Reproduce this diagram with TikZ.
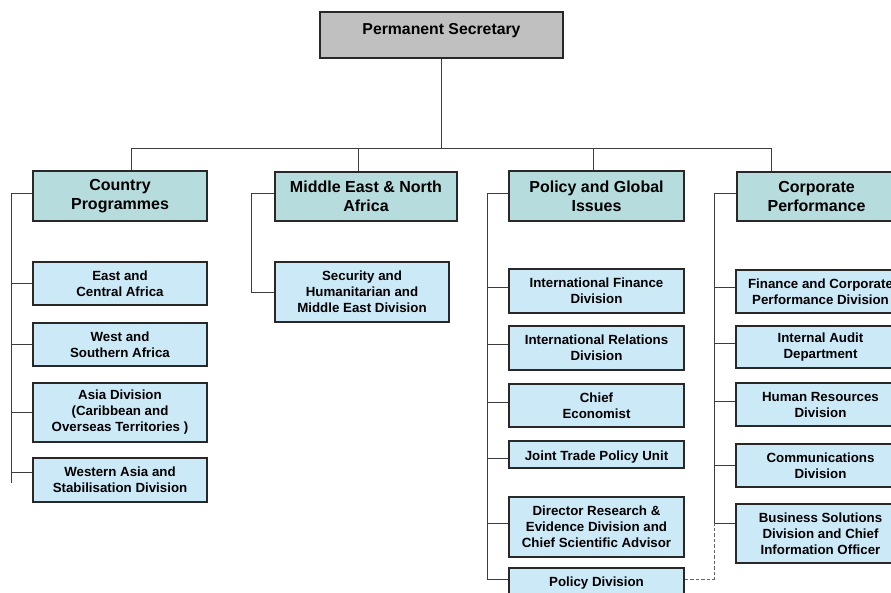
\documentclass[tikz,border=0pt]{standalone}
\usepackage{fontspec}
\setmainfont{Liberation Sans}
\definecolor{topgray}{RGB}{192,192,192}
\definecolor{headteal}{RGB}{183,220,222}
\definecolor{subblue}{RGB}{204,233,248}
\definecolor{linegray}{RGB}{60,60,60}
\definecolor{boxline}{RGB}{40,40,40}
\definecolor{dashgray}{RGB}{100,100,100}
\tikzset{
  box/.style={draw=boxline, line width=1.2pt, inner sep=0pt, align=center},
  topbox/.style={box, fill=topgray, font=\fontsize{15.8}{18}\selectfont\bfseries},
  headbox/.style={box, fill=headteal, font=\fontsize{16}{19}\selectfont\bfseries},
  subbox/.style={box, fill=subblue, font=\fontsize{13.3}{16}\selectfont\bfseries},
  conn/.style={draw=linegray, line width=0.9pt},
  dashconn/.style={draw=dashgray, line width=0.9pt, dash pattern=on 3.5pt off 2pt}
}
\begin{document}
\begin{tikzpicture}[x=1pt,y=-1pt]
\useasboundingbox (0,0) rectangle (891,592);
\clip (0,0) rectangle (891,592);
\fill[white] (0,0) rectangle (891,592);

% top
\node[topbox, minimum width=243pt, minimum height=46pt, text height=11pt, text depth=12pt] (ps) at (441.5,35) {Permanent Secretary};
\coordinate (bus) at (441.5,148);

% headers
\node[headbox, minimum width=174pt, minimum height=50pt] (cp) at (120,196) {Country\\Programmes};
\node[headbox, minimum width=182pt, minimum height=49pt] (me) at (366,196.5) {Middle East \& North\\Africa};
\node[headbox, minimum width=175pt, minimum height=50pt] (pg) at (596.5,196) {Policy and Global\\Issues};
\node[headbox, minimum width=159pt, minimum height=49pt] (cpf) at (816.5,196.5) {Corporate\\Performance};

% country programmes
\node[subbox, minimum width=174pt, minimum height=43pt] (eca) at (120,283.5) {East and\\Central Africa};
\node[subbox, minimum width=174pt, minimum height=43pt] (wsa) at (120,344.5) {West and\\Southern Africa};
\node[subbox, minimum width=174pt, minimum height=59pt] (asia) at (120,412.5) {Asia Division\\(Caribbean and\\Overseas Territories )};
\node[subbox, minimum width=174pt, minimum height=44pt] (was) at (120,480) {Western Asia and\\Stabilisation Division};

% middle east
\node[subbox, minimum width=174pt, minimum height=60pt] (shm) at (362,292) {Security and\\Humanitarian and\\Middle East Division};

% policy
\node[subbox, minimum width=175pt, minimum height=44pt] (ifd) at (596.5,291) {International Finance\\Division};
\node[subbox, minimum width=175pt, minimum height=44pt] (ird) at (596.5,348) {International Relations\\Division};
\node[subbox, minimum width=175pt, minimum height=43pt] (ce) at (596.5,405.5) {Chief\\Economist};
\node[subbox, minimum width=175pt, minimum height=27pt, text height=15pt, text depth=2.7pt] (jtp) at (596.5,454.5) {Joint Trade Policy Unit};
\node[subbox, minimum width=175pt, minimum height=60pt] (dre) at (596.5,527) {Director Research \&\\Evidence Division and\\Chief Scientific Advisor};
\node[subbox, minimum width=175pt, minimum height=28pt, text height=14pt, text depth=5pt] (pd) at (596.5,582) {Policy Division};

% corporate
\node[subbox, minimum width=169pt, minimum height=43pt] (fcp) at (820.5,291.5) {Finance and Corporate\\Performance Division};
\node[subbox, minimum width=169pt, minimum height=42pt] (iad) at (820.5,347) {Internal Audit\\Department};
\node[subbox, minimum width=169pt, minimum height=43pt] (hrd) at (820.5,404.5) {Human Resources\\Division};
\node[subbox, minimum width=169pt, minimum height=43pt] (cd) at (820.5,465.5) {Communications\\Division};
\node[subbox, minimum width=169pt, minimum height=59pt] (bsd) at (820.5,533.5) {Business Solutions\\Division and Chief\\Information Officer};

% trunk and bus
\draw[conn] (ps.south) -- (bus);
\draw[conn] ([xshift=11.5pt]cp.north) |- (bus);
\draw[conn] ([xshift=-45pt]cpf.north) |- (bus);
\draw[conn] ([xshift=-8pt]me.north) -- ([xshift=-8pt]me.north |- bus);
\draw[conn] ([xshift=-3.5pt]pg.north) -- ([xshift=-3.5pt]pg.north |- bus);

% country spine
\coordinate (cpb) at (11,483);
\draw[conn] ([yshift=3pt]cp.west) -| (cpb);
\draw[conn] (eca.west) -- (eca.west -| cpb);
\draw[conn] (wsa.west) -- (wsa.west -| cpb);
\draw[conn] (asia.west) -- (asia.west -| cpb);
\draw[conn] ([yshift=8pt]was.west) -- ([yshift=8pt]was.west -| cpb);

% middle east spine
\draw[conn] ([yshift=3.5pt]me.west) -- ++(-23,0) |- (shm.west);

% policy spine
\coordinate (pgb) at (487,579);
\draw[conn] ([yshift=3pt]pg.west) -| (pgb);
\draw[conn] ([yshift=4pt]ifd.west) -- ([yshift=4pt]ifd.west -| pgb);
\draw[conn] ([yshift=4pt]ird.west) -- ([yshift=4pt]ird.west -| pgb);
\draw[conn] ([yshift=3.5pt]ce.west) -- ([yshift=3.5pt]ce.west -| pgb);
\draw[conn] ([yshift=-3.5pt]jtp.west) -- ([yshift=-3.5pt]jtp.west -| pgb);
\draw[conn] ([yshift=4pt]dre.west) -- ([yshift=4pt]dre.west -| pgb);
\draw[conn] ([yshift=3pt]pd.west) -- ([yshift=3pt]pd.west -| pgb);

% corporate spine
\coordinate (cpfb) at (714,523);
\draw[conn] ([yshift=3.5pt]cpf.west) -| (cpfb);
\draw[conn] ([yshift=4.5pt]fcp.west) -- ([yshift=4.5pt]fcp.west -| cpfb);
\draw[conn] ([yshift=4pt]iad.west) -- ([yshift=4pt]iad.west -| cpfb);
\draw[conn] ([yshift=3.5pt]hrd.west) -- ([yshift=3.5pt]hrd.west -| cpfb);
\draw[conn] (cd.west) -- (cd.west -| cpfb);
\draw[conn] ([yshift=10.5pt]bsd.west) -- ([yshift=10.5pt]bsd.west -| cpfb);

% dashed link
\draw[dashconn] ([yshift=3pt]pd.east) -| (cpfb);
\end{tikzpicture}
\end{document}
